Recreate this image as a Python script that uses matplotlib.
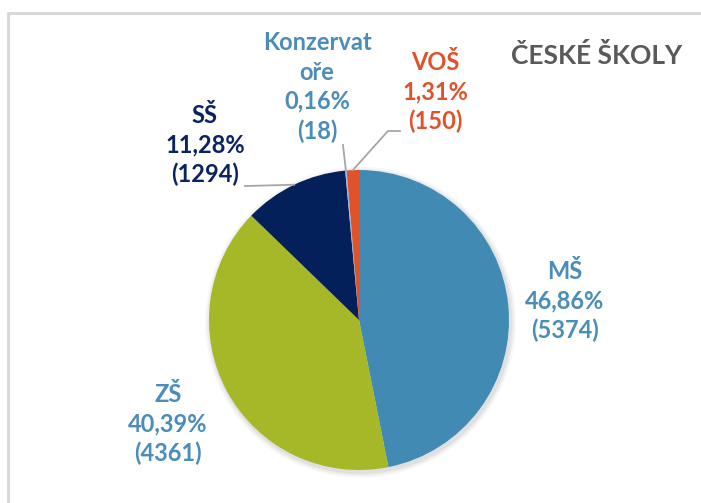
import matplotlib
matplotlib.use("Agg")
import matplotlib.pyplot as plt
import numpy as np
from matplotlib.patches import Circle

plt.rcParams['font.family'] = ['Lato', 'DejaVu Sans']

categories = ["MŠ", "ZŠ", "SŠ", "Konzervat\noře", "VOŠ"]
percents = [46.86, 40.39, 11.28, 0.16, 1.31]
counts = [5374, 4361, 1294, 18, 150]
slice_colors = ["#418AB3", "#A6B727", "#03205A", "#9BB8D6", "#E0522A"]
label_colors = ["#4A8DB8", "#4A8DB8", "#0B2461", "#4A8DB8", "#E0522A"]
title = "ČESKÉ ŠKOLY"

W, H = 701, 503
fig = plt.figure(figsize=(W / 100, H / 100), dpi=100)
fig.patch.set_facecolor("white")

# frame
frame = fig.add_axes([0, 0, 1, 1])
frame.set_xlim(0, W)
frame.set_ylim(H, 0)
frame.axis("off")
frame.plot([8, 8, W + 5], [H + 5, 13, 13], color="#D9D9D9", lw=2.2, solid_capstyle="butt")

cx, cy, R = 359, 320, 150
ax = fig.add_axes([(cx - R) / W, (H - cy - R) / H, 2 * R / W, 2 * R / H])

# soft shadow
for i, a in enumerate([0.05, 0.04, 0.03]):
    ax.add_patch(Circle((0.01, -0.015), 1.0 + 0.012 * (i + 1), color="black", alpha=a, lw=0, zorder=0,
                        clip_on=False))

wedges, _ = ax.pie(percents, colors=slice_colors, startangle=90, counterclock=False,
                   radius=1.0, wedgeprops=dict(linewidth=0))
for w in wedges:
    w.set_zorder(2)
    w.set_clip_on(False)
ax.set_xlim(-1, 1)
ax.set_ylim(-1, 1)
ax.set_aspect("equal")
ax.axis("off")

label_pos = [(1.373, 0.127), (-1.273, -0.693), (-1.027, 1.167), (-0.28, 1.553), (0.507, 1.52)]
for name, p, c, col, pos in zip(categories, percents, counts, label_colors, label_pos):
    txt = f"{name}\n{p:.2f}%\n({c})".replace(".", ",")
    ax.text(pos[0], pos[1], txt, ha="center", va="center", color=col, fontsize=17,
            fontweight="bold", linespacing=1.33, clip_on=False)

# leader lines
def edge_point(w):
    th = np.deg2rad((w.theta1 + w.theta2) / 2)
    return np.cos(th), np.sin(th)

lc = "#A6A6A6"
x0, y0 = edge_point(wedges[2])
ax.plot([x0, -0.76], [y0, 0.893], color=lc, lw=1.3, clip_on=False)
x0, y0 = edge_point(wedges[3])
ax.plot([x0, -0.107], [y0, 1.167], color=lc, lw=1.3, clip_on=False)
x0, y0 = edge_point(wedges[4])
ax.plot([x0, 0.193, 0.273], [y0, 1.26, 1.26], color=lc, lw=1.3, clip_on=False)

fig.text(597 / W, 1 - 55 / H, title, ha="center", va="center", color="#595959",
         fontsize=19, fontweight="bold")

fig.savefig("out.png", dpi=100)
